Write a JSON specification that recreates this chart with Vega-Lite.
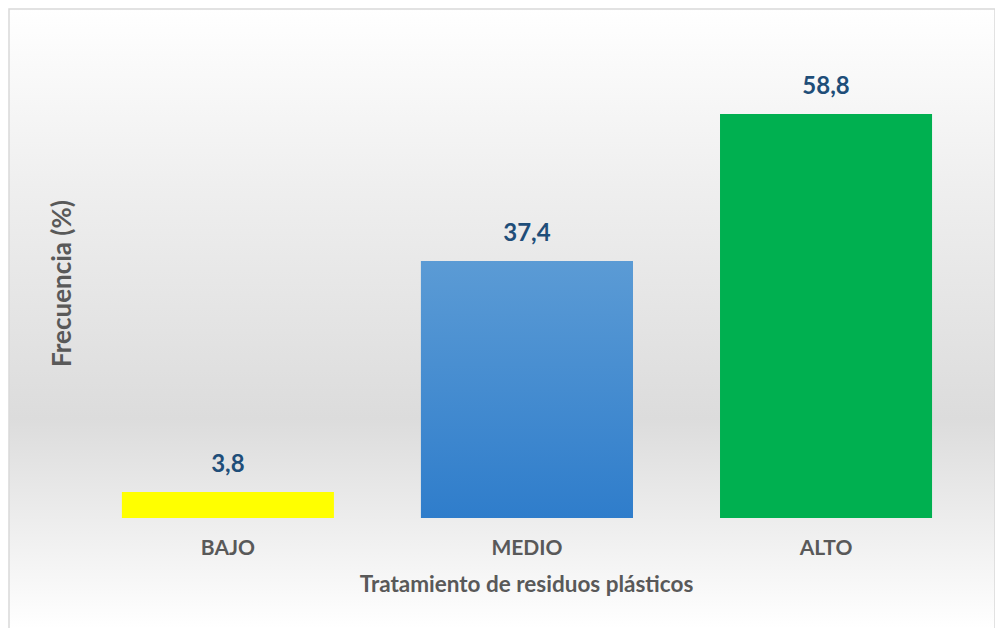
{
  "$schema": "https://vega.github.io/schema/vega-lite/v6.json",
  "width": 986,
  "height": 620,
  "padding": {"left": 8, "top": 8, "right": 1, "bottom": 0},
  "background": "#ffffff",
  "config": {
    "font": "Lato",
    "view": {"stroke": null},
    "locale": {"number": {"decimal": ",", "thousands": ".", "grouping": [3], "currency": ["", " €"]}}
  },
  "data": {
    "values": [
      {"nivel": "BAJO", "frecuencia": 3.8},
      {"nivel": "MEDIO", "frecuencia": 37.4},
      {"nivel": "ALTO", "frecuencia": 58.8}
    ]
  },
  "encoding": {
    "x": {
      "field": "nivel",
      "type": "nominal",
      "sort": null,
      "scale": {"paddingInner": 0.291, "paddingOuter": 0.294, "align": 0.642},
      "axis": {
        "zindex": 1,
        "orient": "bottom",
        "offset": -111,
        "domain": false,
        "ticks": false,
        "labelAngle": 0,
        "labelPadding": 19,
        "labelFont": "Lato",
        "labelFontSize": 21,
        "labelFontWeight": "bold",
        "labelColor": "#595959",
        "title": "Tratamiento de residuos plásticos",
        "titleFont": "Lato",
        "titleFontSize": 22.5,
        "titleFontWeight": "bold",
        "titleColor": "#595959",
        "titlePadding": 15,
        "titleX": 517
      }
    },
    "y": {
      "field": "frecuencia",
      "type": "quantitative",
      "scale": {"domain": [-16.16, 74.09], "nice": false, "zero": false},
      "axis": {
        "zindex": 1,
        "offset": -70,
        "domain": false,
        "ticks": false,
        "labels": false,
        "grid": false,
        "title": "Frecuencia (%)",
        "titleFont": "Lato",
        "titleFontSize": 26,
        "titleFontWeight": "bold",
        "titleColor": "#595959",
        "titlePadding": 4,
        "titleY": 274
      }
    }
  },
  "layer": [
    {
      "data": {"values": [{}]},
      "mark": {
        "type": "rect",
        "stroke": "#d9d9d9",
        "strokeWidth": 1.5,
        "color": {
          "gradient": "linear",
          "x1": 0, "y1": 0, "x2": 0, "y2": 1,
          "stops": [
            {"offset": 0, "color": "#ffffff"},
            {"offset": 0.3, "color": "#eeeeee"},
            {"offset": 0.66, "color": "#dcdcdc"},
            {"offset": 1, "color": "#ffffff"}
          ]
        }
      },
      "encoding": {"x": null, "y": null}
    },
    {
      "mark": {"type": "bar"},
      "encoding": {
        "color": {
          "field": "nivel",
          "type": "nominal",
          "scale": {"domain": ["BAJO", "MEDIO", "ALTO"], "range": ["#ffff00", "#4a90d8", "#00b050"]},
          "legend": null
        }
      }
    },
    {
      "transform": [{"filter": "datum.nivel === 'MEDIO'"}],
      "mark": {
        "type": "bar",
        "color": {
          "gradient": "linear",
          "x1": 0, "y1": 0, "x2": 0, "y2": 1,
          "stops": [
            {"offset": 0, "color": "#5b9bd5"},
            {"offset": 1, "color": "#2f7dcb"}
          ]
        }
      }
    },
    {
      "mark": {
        "type": "text",
        "baseline": "alphabetic",
        "dy": -20,
        "font": "Lato",
        "fontSize": 24,
        "fontWeight": "bold",
        "color": "#1f4e79"
      },
      "encoding": {
        "text": {"field": "frecuencia", "type": "quantitative", "format": ".1f"}
      }
    }
  ]
}
